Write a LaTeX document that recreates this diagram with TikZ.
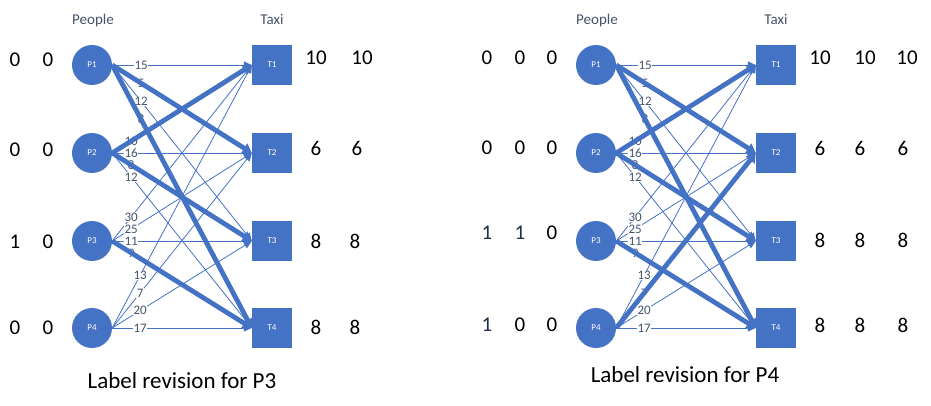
\documentclass[tikz,border=0pt]{standalone}
\usepackage{fontspec}
\setmainfont{Carlito}
\usetikzlibrary{arrows.meta}
\definecolor{obl}{HTML}{4472C4}
\definecolor{txttwo}{HTML}{44546A}
\definecolor{navy}{HTML}{1F2D4A}
\begin{document}
\begin{tikzpicture}[x=1pt,y=-1pt,
  person/.style={circle,fill=obl,minimum size=40pt,inner sep=0pt,text=white,font=\fontsize{9}{10}\selectfont},
  taxi/.style={rectangle,fill=obl,minimum size=40pt,inner sep=0pt,text=white,font=\fontsize{9}{10}\selectfont},
  thinedge/.style={draw=obl,line width=0.8pt,-{Triangle[length=8pt,width=7pt]}},
  thickedge/.style={draw=obl,line width=4.8pt,-{Triangle[length=9pt,width=11pt]}},
  wlabel/.style={fill=white,inner sep=0.6pt,text=txttwo,font=\fontsize{13}{13}\selectfont},
  num/.style={inner sep=0pt,font=\fontsize{21}{21}\selectfont},
  numb/.style={num,text=navy},
  head/.style={anchor=base,inner sep=0pt,text=txttwo,font=\fontsize{15}{15}\selectfont},
  captxt/.style={anchor=base,inner sep=0pt,font=\fontsize{23}{23}\selectfont}]
\useasboundingbox (0,0) rectangle (931,406);
\foreach \pf/\ox in {L/0,R/504} {
  \node[head] (\pf hp) at (\ox+93,25) {People};
  \node[head] (\pf ht) at (\ox+272,25) {Taxi};
  \foreach \k/\yy in {1/65,2/153,3/241,4/328} {
    \node[person] (\pf P\k) at (\ox+92,\yy) {P\k};
    \node[taxi] (\pf T\k) at (\ox+272,\yy) {T\k};
  }
}
% thin edges
\foreach \i/\j in {1/1,1/3,2/2,2/4,3/1,3/2,3/3,4/1,4/2,4/3,4/4}
  \draw[thinedge] (LP\i.east) -- (LT\j.west);
\foreach \i/\j in {1/1,1/3,2/2,2/4,3/1,3/2,3/3,4/1,4/3,4/4}
  \draw[thinedge] (RP\i.east) -- (RT\j.west);
% labels
\foreach \pf in {L,R} {
  \foreach \i/\j/\w/\p in {1/1/15/0.207,1/2/5/0.207,1/3/12/0.207,1/4/8/0.207,
                          2/1/10/0.136,2/2/16/0.136,2/3/8/0.136,2/4/12/0.136,
                          3/1/30/0.136,3/2/25/0.136,3/3/11/0.136,3/4/9/0.136,
                          4/1/13/0.2,4/2/7/0.2,4/3/20/0.2,4/4/17/0.2}
    \path (\pf P\i.east) -- (\pf T\j.west) node[wlabel,pos=\p] (\pf w\i\j) {\w};
}
% thick edges
\foreach \i/\j in {1/2,1/4,2/1,2/3,3/4}
  \draw[thickedge] (LP\i.east) -- (LT\j.west);
\foreach \i/\j in {1/2,1/4,2/1,2/3,3/4,4/2}
  \draw[thickedge] (RP\i.east) -- (RT\j.west);
% numbers left panel
\node[num] (la1) at (15,60) {0}; \node[num] (lb1) at (48,60) {0};
\node[num] (la2) at (15,150) {0}; \node[num] (lb2) at (48,150) {0};
\node[num] (la3) at (15,242) {1}; \node[num] (lb3) at (48,242) {0};
\node[num] (la4) at (15,328) {0}; \node[num] (lb4) at (48,328) {0};
\node[num] (lc1) at (316,58) {10}; \node[num] (ld1) at (362,58) {10};
\node[num] (lc2) at (316,148) {6}; \node[num] (ld2) at (357,148) {6};
\node[num] (lc3) at (316,241) {8}; \node[num] (ld3) at (355,241) {8};
\node[num] (lc4) at (316,327) {8}; \node[num] (ld4) at (355,327) {8};
% numbers right panel
\node[num] (ra1) at (487,58) {0}; \node[num] (rb1) at (520,58) {0}; \node[num] (rc1) at (552,58) {0};
\node[num] (ra2) at (487,148) {0}; \node[num] (rb2) at (520,148) {0}; \node[num] (rc2) at (552,148) {0};
\node[numb] (ra3) at (487,233) {1}; \node[numb] (rb3) at (520,233) {1}; \node[num] (rc3) at (552,233) {0};
\node[numb] (ra4) at (487,325) {1}; \node[num] (rb4) at (520,325) {0}; \node[num] (rc4) at (552,325) {0};
\node[num] (rd1) at (820,58) {10}; \node[num] (re1) at (865,58) {10}; \node[num] (rf1) at (907,58) {10};
\node[num] (rd2) at (820,148) {6}; \node[num] (re2) at (860,148) {6}; \node[num] (rf2) at (903,148) {6};
\node[num] (rd3) at (820,240) {8}; \node[num] (re3) at (860,240) {8}; \node[num] (rf3) at (903,240) {8};
\node[num] (rd4) at (820,325) {8}; \node[num] (re4) at (860,325) {8}; \node[num] (rf4) at (903,325) {8};
% captions
\node[captxt] (capL) at (182,388) {Label revision for P3};
\node[captxt] (capR) at (685,382) {Label revision for P4};
\end{tikzpicture}
\end{document}
